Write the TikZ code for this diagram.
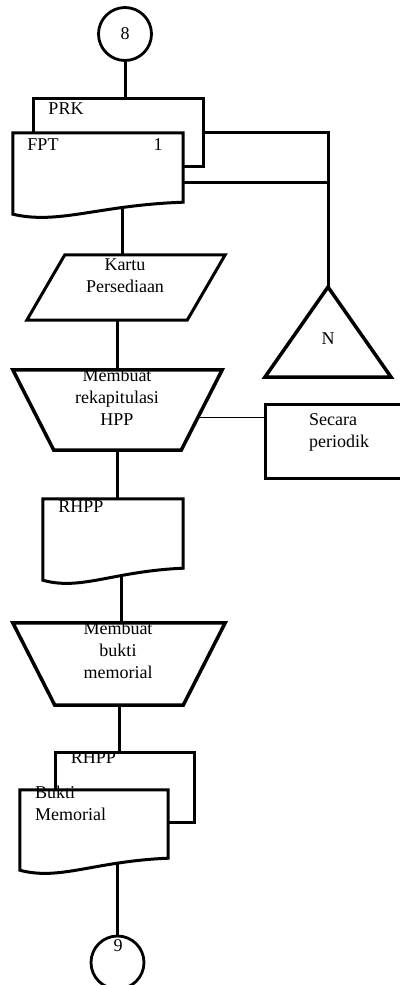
\documentclass[tikz,border=0pt]{standalone}
\usepackage{fontspec}
\setmainfont{Liberation Serif}
\usetikzlibrary{calc}
\pgfdeclarelayer{bg}
\pgfsetlayers{bg,main}
\tikzset{
  flow/.style={line width=3pt},
  thinflow/.style={line width=1pt},
  heavyline/.style={line width=3.5pt, line join=miter},
  outline/.style={draw, line width=3pt, fill=white, inner sep=0pt},
  connector/.style={draw, circle, line width=2.8pt, minimum size=53pt, inner sep=0pt},
  sheet/.style={rectangle, inner sep=0pt},
  txt/.style={inner sep=0pt, align=center},
}
% document symbol: straight top and sides, wavy bottom edge
\newcommand\docsheet[1]{%
  \coordinate (#1-lb) at ($(#1.south west)+(0,-12pt)$);
  \draw[flow, fill=white] (#1.south east) -- (#1.north east) -- (#1.north west) -- (#1-lb)
    .. controls ($(#1-lb)!0.27!(#1.south east)+(0,-14pt)$) and ($(#1-lb)!0.5!(#1.south east)+(0,3pt)$) .. cycle;}
% input/output symbol: parallelogram leaning right
\newcommand\slantbox[2]{%
  \draw[flow, fill=white, line join=miter] ([xshift=#2]#1.north west) -- (#1.north east)
    -- ([xshift=-#2]#1.south east) -- (#1.south west) -- cycle;}
% manual operation symbol: trapezoid, wide side up
\newcommand\manualop[2]{%
  \draw[heavyline, fill=white] (#1.north west) -- (#1.north east)
    -- ([xshift=-#2]#1.south east) -- ([xshift=#2]#1.south west) -- cycle;}
\begin{document}
\begin{tikzpicture}[x=1pt,y=-1pt, every node/.append style={font=\fontsize{18}{22}\selectfont}]
\useasboundingbox (0,0) rectangle (399,985);

% off-page connector in
\node[connector] (c8) at (125,34) {8};

% PRK behind FPT
\node[outline, minimum width=170pt, minimum height=68pt] (prk) at (118,132) {};
\node[txt] (prkT) at (66,109) {PRK};
\node[sheet, minimum width=170pt, minimum height=69pt] (fpt) at (98,167.5) {};
\docsheet{fpt}
\node[txt] (fptT) at (43,145) {FPT};
\node[txt] (fptN) at (158,145) {1};

% stock card
\node[sheet, minimum width=198pt, minimum height=65pt] (kp) at (126,287.5) {};
\slantbox{kp}{38pt}
\node[txt] (kpT) at (125,276) {Kartu\\Persediaan};

% file N
\coordinate (triTop) at (328,287);
\draw[heavyline] (triTop) -- (391,377) -- (265,377) -- cycle;
\node[txt] (triN) at (328,339) {N};

% manual step: HPP recap
\node[sheet, minimum width=209pt, minimum height=80pt] (mr) at (117.5,410) {};
\manualop{mr}{41pt}
\node[txt] (mrT) at (117,397) {Membuat\\rekapitulasi\\HPP};

% note
\node[outline, minimum width=140pt, minimum height=74pt] (sp) at (335,441) {};
\node[txt, align=left, anchor=west] (spT) at (309,432.5) {Secara\\periodik};

% RHPP
\node[sheet, minimum width=140pt, minimum height=69pt] (rh) at (113,533.5) {};
\docsheet{rh}
\node[txt] (rhT) at (81,507) {RHPP};

% manual step: memorial voucher
\node[sheet, minimum width=212pt, minimum height=82pt] (mb) at (119,664) {};
\manualop{mb}{42pt}
\node[txt] (mbT) at (118,650) {Membuat\\bukti\\memorial};

% RHPP behind Bukti Memorial
\node[outline, minimum width=139pt, minimum height=70pt] (rb) at (124.5,787) {};
\node[txt] (rbT) at (93.5,758) {RHPP};
\node[sheet, minimum width=148pt, minimum height=68pt] (bm) at (94,824) {};
\docsheet{bm}
\node[txt, align=left, anchor=west] (bmT) at (35,803) {Bukti\\Memorial};

% off-page connector out
\node[connector] (c9) at (117.5,962.5) {};
\node[txt] (c9T) at (118,946) {9};

% flow lines
\begin{pgfonlayer}{bg}
\draw[flow] (c8.south) -- (c8.south |- prk.north);
\draw[flow] (prk.east) -| (triTop);
\coordinate (fptJ) at ([yshift=-14.5pt]fpt.east);
\draw[flow] (fptJ) -- (fptJ -| triTop);
\coordinate (kpJ) at ([xshift=-4pt]kp.north);
\draw[flow] (kpJ) -- (kpJ |- fpt.south);
\draw[flow] (mr.north) -- (mr.north |- kp.south);
\coordinate (spJ) at ([yshift=24pt]sp.west);
\draw[thinflow] (spJ) -- (spJ -| mr.center);
\draw[flow] (mr.south) -- (mr.south |- rh.north);
\coordinate (mbJ) at ([xshift=2pt]mb.north);
\draw[flow] (mbJ) -- (mbJ |- rh.south);
\draw[flow] (mb.south) -- (mb.south |- rb.north);
\draw[flow] (c9.north) -- (c9.north |- bm.south);
\end{pgfonlayer}
\end{tikzpicture}
\end{document}
